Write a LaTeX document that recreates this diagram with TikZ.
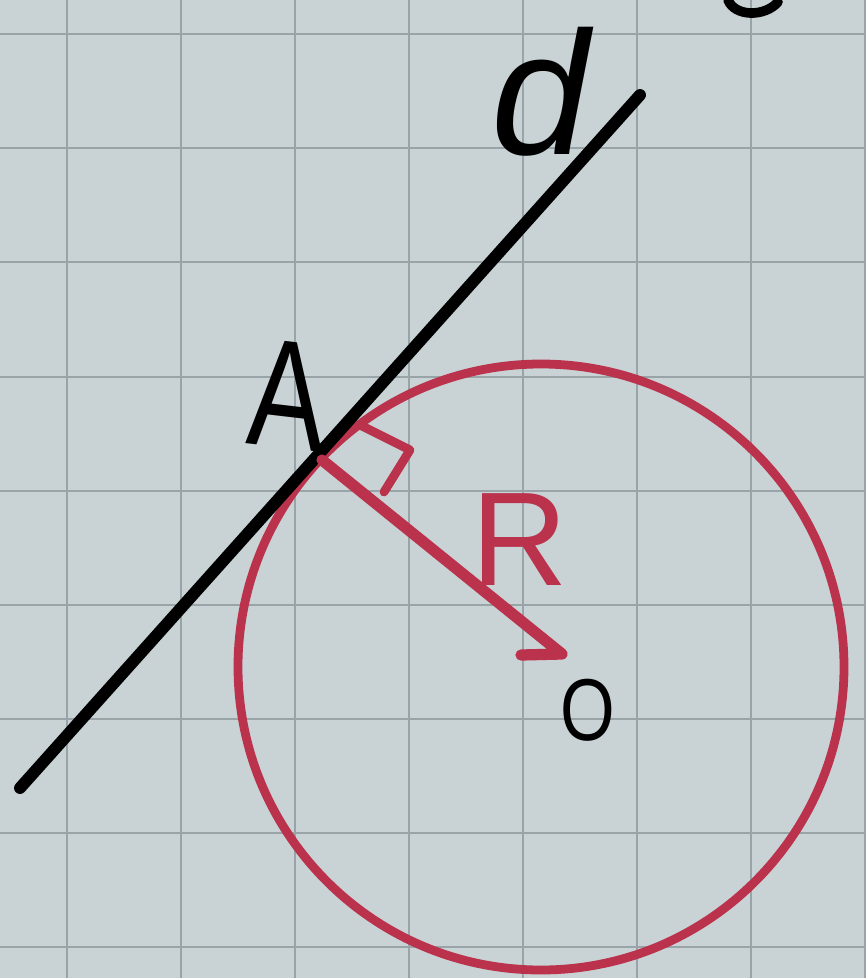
\documentclass[tikz,border=0pt]{standalone}
\usepackage{fontspec}
\setmainfont{Liberation Sans}
\definecolor{paper}{RGB}{201,211,213}
\definecolor{gridc}{RGB}{152,164,167}
\definecolor{pen}{RGB}{186,50,76}
\begin{document}
\begin{tikzpicture}[x=0.02cm,y=-0.02cm,line cap=round,line join=round,
  gridline/.style={gridc,line width=1.3pt},
  blackpen/.style={black,line width=6.8pt},
  redpen/.style={pen,line width=5pt},
  lbl/.style={inner sep=0pt,outer sep=0pt}]
\fill[paper] (0,0) rectangle (866,978);
\useasboundingbox (0,0) rectangle (866,978);
\foreach \x in {67,181,295,409,523,637,751,865}
  \draw[gridline] (\x,0) -- (\x,978);
\foreach \y in {34,148,262,377,491,605,719,833,947}
  \draw[gridline] (0,\y) -- (866,\y);
% geometry
\coordinate (L1) at (20,788);
\coordinate (L2) at (640,95);
\coordinate (A) at (322,460);
\coordinate (Oc) at (541,667);
\coordinate (Rend) at (562,654);
\coordinate (Rh) at (521,655);
\coordinate (Q1) at (362,426);
\coordinate (Q2) at (410,450);
\coordinate (Q3) at (384,492);
\draw[redpen] (Oc) circle [radius=303];
\draw[blackpen] (L1) -- (L2);
\draw[pen,line width=6.4pt] (A) -- (Rend) -- (Rh);
\draw[redpen] (Q1) -- (Q2) -- (Q3);
% labels
\node[lbl] (dlab) at (540,92) {\fontsize{100}{100}\selectfont\itshape d};
\node[lbl,xscale=0.75,rotate=-5] (Alab) at (287,395) {\fontsize{88}{88}\selectfont A};
\node[lbl,text=pen] (Rlab) at (520,540) {\fontsize{76}{76}\selectfont R};
\node[lbl,xscale=0.8] (Olab) at (588,710) {\fontsize{50}{50}\selectfont O};
% partial glyph at top edge
\draw[line width=5.5pt] (728,0) .. controls (735,17) and (765,17) .. (778,2);
\end{tikzpicture}
\end{document}
